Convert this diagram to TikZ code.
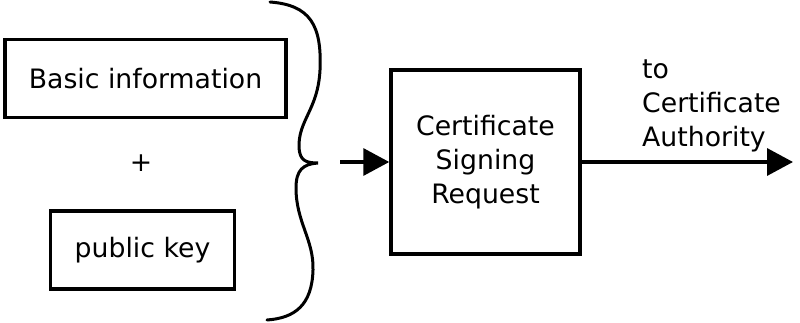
\documentclass[tikz,border=0pt]{standalone}
\usepackage{fontspec}
\setmainfont{DejaVu Sans}
\usetikzlibrary{arrows.meta}
\begin{document}
\begin{tikzpicture}[x=1pt,y=-1pt,
  box/.style={draw,line width=3.5pt,rectangle,inner sep=0pt},
  lbl/.style={font=\fontsize{26.7}{34}\selectfont},
  conn/.style={line width=3.5pt,-{Triangle[length=26pt,width=27pt]}},
  bracepath/.style={line width=3pt,line cap=round}]
\useasboundingbox (0,0) rectangle (800,323);
\node[box,lbl,minimum width=281pt,minimum height=78pt] (basic) at (145.5,78.5) {Basic information};
\node[lbl] (plus) at (141,163) {+};
\node[box,lbl,minimum width=184pt,minimum height=78pt] (pubkey) at (142.5,250) {public key};
\node[box,lbl,align=center,minimum width=189pt,minimum height=184pt] (csr) at (485.5,162) {Certificate\\Signing\\Request};
\node[lbl,align=left,anchor=base west,inner sep=0pt] (ca) at (642,147) {to\\Certificate\\Authority};
\coordinate (bracetip) at (318,163);
\coordinate (arrstart) at (340,162);
\coordinate (arrend) at (793,162);
\draw[bracepath] (270,2) .. controls (310,5) and (322,25) .. (320,70)
  .. controls (318,110) and (298,120) .. (299,148)
  .. controls (300,160) and (305,163) .. (bracetip)
  .. controls (303,164) and (296,170) .. (296,188)
  .. controls (296,222) and (314,240) .. (313,270)
  .. controls (312,305) and (295,318) .. (267,320);
\draw[conn] (arrstart) -- (csr.west);
\draw[conn] (csr.east) -- (arrend);
\end{tikzpicture}
\end{document}
